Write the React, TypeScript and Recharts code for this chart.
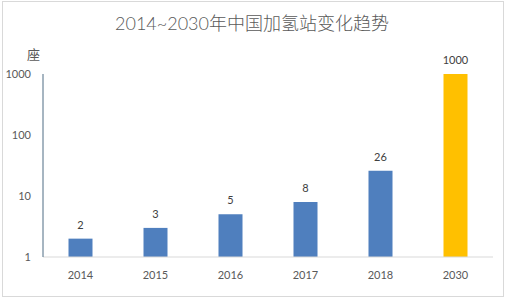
import { BarChart, Bar, XAxis, YAxis, Cell, LabelList } from "recharts";

const years = ["2014", "2015", "2016", "2017", "2018", "2030"];
const stations = [2, 3, 5, 8, 26, 1000];
const yTicks = [1, 10, 100, 1000];

const data = years.map((y, i) => ({ year: y, count: stations[i] }));

const font = "Lato, 'Noto Sans CJK SC', sans-serif";
const blue = "#4f7fbe";
const gold = "#ffc000";

export default function App() {
  return (
    <div
      style={{
        position: "absolute",
        left: 0,
        top: 0,
        width: 508,
        height: 300,
        background: "#fff",
        fontFamily: font,
      }}
    >
      {/* frame */}
      <div
        style={{
          position: "absolute",
          left: 2,
          top: 1,
          width: 502,
          height: 296,
          border: "1px solid #d9d9d9",
          boxSizing: "border-box",
        }}
      />
      <div
        style={{
          position: "absolute",
          left: 0,
          top: 9,
          width: 504,
          textAlign: "center",
          fontSize: 18,
          color: "#595959",
          fontFamily: font,
          fontWeight: 300,
        }}
      >
        2014~2030年中国加氢站变化趋势
      </div>
      <div
        style={{
          position: "absolute",
          left: 27,
          top: 44,
          fontSize: 13,
          color: "#595959",
          fontFamily: "'Noto Sans CJK SC', sans-serif",
        }}
      >
        座
      </div>
      <div style={{ position: "absolute", left: 0, top: 0 }}>
        <BarChart
          width={508}
          height={300}
          data={data}
          margin={{ top: 74, right: 15, bottom: 13, left: 0 }}
          barCategoryGap="34%"
        >
          <XAxis
            dataKey="year"
            height={30}
            tickLine={false}
            axisLine={{ stroke: "#d9d9d9" }}
            tick={{ fill: "#595959", fontSize: 11, fontFamily: font }}
            tickMargin={8}
          />
          <YAxis
            scale="log"
            domain={[1, 1000]}
            ticks={yTicks}
            allowDataOverflow
            width={43}
            tickLine={false}
            axisLine={{ stroke: "#4e6d84" }}
            tick={{ fill: "#595959", fontSize: 11, fontFamily: font }}
            tickMargin={6}
          />
          <Bar dataKey="count" isAnimationActive={false}>
            {data.map((d, i) => (
              <Cell key={d.year} fill={i === data.length - 1 ? gold : blue} />
            ))}
            <LabelList
              dataKey="count"
              position="top"
              offset={10}
              fill="#404040"
              fontSize={11}
              fontFamily={font}
            />
          </Bar>
        </BarChart>
      </div>
    </div>
  );
}
